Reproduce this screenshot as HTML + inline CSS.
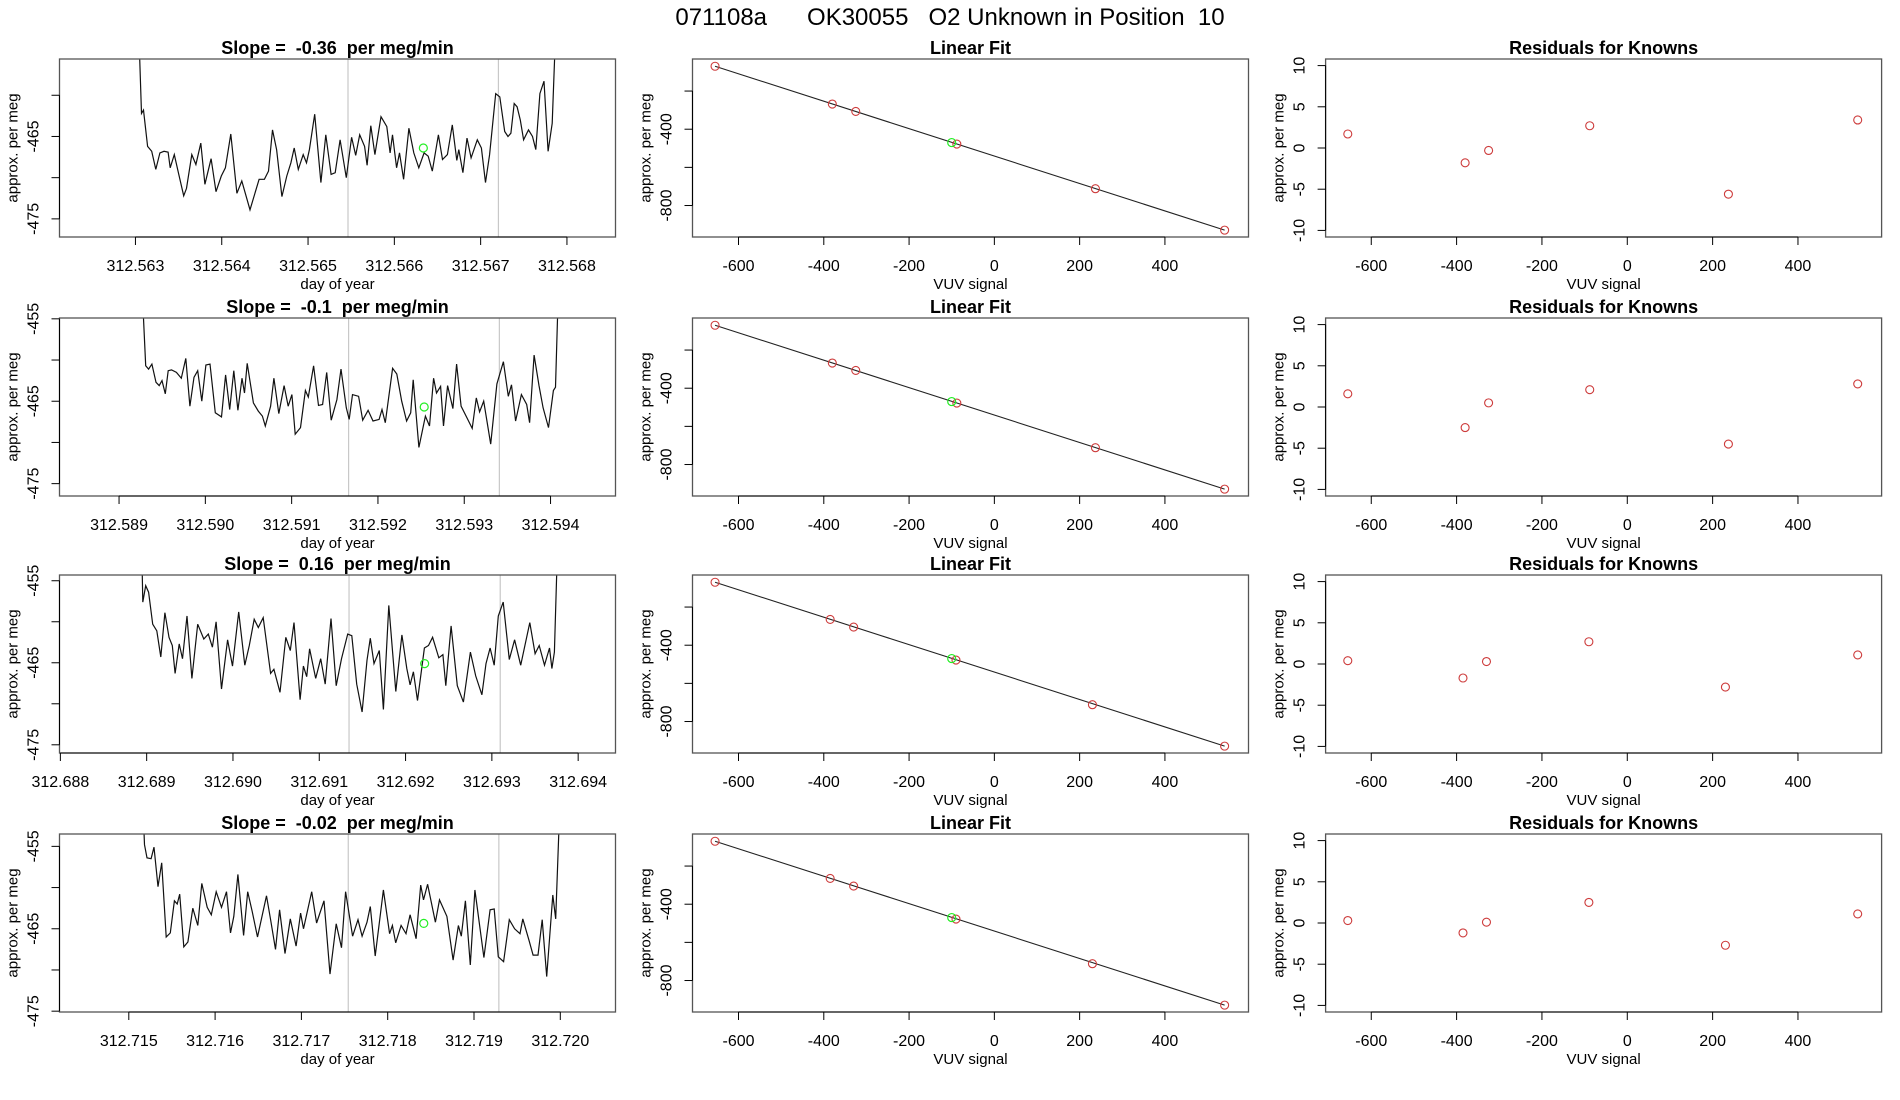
<!DOCTYPE html>
<html><head><meta charset="utf-8"><style>
html,body{margin:0;padding:0;background:#fff;}
svg{display:block;font-family:"Liberation Sans",Arial,sans-serif;}
svg text{white-space:pre;}
</style></head><body>
<svg id="chart" width="1900" height="1100" viewBox="0 0 1900 1100" xmlns="http://www.w3.org/2000/svg">
<rect width="1900" height="1100" fill="#fff"/>
<text x="950" y="25" text-anchor="middle" font-size="24" fill="#000">071108a      OK30055   O2 Unknown in Position  10</text>
</svg>
<script>
// ---- time-series data (seconds after t0, value per meg) ----
const tsStart = [312.563032, 312.589261, 312.688941, 312.715163];
const tsXmin = [312.56212, 312.58831, 312.68799, 312.714197];
const tsYlim = [[-477.2,-455.6],[-476.5,-454.9],[-476.0,-454.3],[-475.1,-453.5]];
const tsSlopes = ["-0.36","-0.1","0.16","-0.02"];
const tsTicks = [
 [312.563,312.564,312.565,312.566,312.567,312.568],
 [312.589,312.590,312.591,312.592,312.593,312.594],
 [312.688,312.689,312.690,312.691,312.692,312.693,312.694],
 [312.715,312.716,312.717,312.718,312.719,312.720]];
const tsYTicks = [-475,-470,-465,-460,-455];
const tsYLabels = [[-475,-465],[-475,-465,-455],[-475,-465,-455],[-475,-465,-455]];
const tsGrey = [[312.565463,312.567206],[312.591660,312.593407],[312.691345,312.693097],[312.717543,312.719288]];
const tsGreenX = [312.566336,312.592536,312.692221,312.718418];
const tsGreenY = [-466.4,-465.7,-465.1,-464.35];

const secs1=[0,3.3,5.3,9.4,13.5,17.6,21.7,25.8,29.9,32.0,36.1,40.2,45.5,48.4,53.7,57.8,62.7,66.8,73.0,77.9,83.2,87.3,92.7,98.8,103.7,111.9,121.0,126.3,130.4,134.5,138.6,143.9,148.8,152.9,156.2,160.3,165.2,168.5,171.4,176.7,182.9,187.8,193.1,197.2,202.1,208.3,213.6,217.7,221.8,226.7,229.2,232.9,237.0,243.1,248.9,252.2,254.6,258.7,261.6,265.7,271.0,275.9,280.9,286.2,290.3,294.4,300.5,304.6,309.6,314.5,319.0,321.0,325.1,329.2,333.3,339.5,343.6,347.7,351.8,357.9,362.0,366.9,370.2,373.1,376.4,379.3,382.5,385.8,390.7,394.8,398.1,402.2,406.3,410.4,414.5,418.6];
const vals1=[-450,-462.2,-461.8,-466.2,-466.8,-469.0,-467.0,-466.8,-466.9,-468.8,-467.2,-469.4,-472.2,-471.3,-467.2,-468.4,-465.8,-470.8,-467.7,-471.7,-469.8,-468.8,-464.7,-471.9,-470.4,-473.9,-470.2,-470.2,-469.2,-464.2,-466.6,-472.3,-469.8,-468.2,-466.4,-469.0,-467.2,-468.2,-466.6,-462.3,-470.6,-464.8,-469.6,-469.4,-465.4,-470.0,-465.1,-467.3,-464.8,-466.2,-468.5,-463.7,-467.2,-462.6,-463.8,-467.0,-464.8,-468.8,-467.0,-470.2,-464.0,-467.0,-468.8,-467.0,-467.4,-469.2,-464.8,-467.8,-467.2,-463.6,-467.9,-466.6,-469.4,-465.2,-467.6,-465.4,-466.4,-470.6,-467.2,-459.8,-460.2,-464.4,-465.0,-464.6,-461.0,-461.4,-463.0,-465.4,-464.2,-465.0,-466.6,-459.8,-458.3,-466.8,-463.4,-450];
const secs2=[0,4.1,7.0,10.3,14.4,17.6,20.5,23.8,26.7,30.0,34.9,39.8,44.3,48.4,52.5,56.2,60.3,64.4,68.5,73.8,80.0,84.1,88.2,92.3,96.4,100.5,103.0,105.8,112.0,116.9,121.0,123.9,129.2,132.5,137.4,142.7,146.8,150.5,153.8,159.1,164.0,166.9,172.2,177.1,181.2,185.3,189.8,195.6,199.7,205.0,207.9,211.2,217.3,221.4,226.8,231.7,237.8,240.7,244.0,251.3,255.5,260.4,265.3,269.4,271.9,277.6,284.2,288.3,292.4,295.3,299.4,302.3,306.4,311.7,315.4,319.9,326.1,331.0,335.1,338.4,342.5,349.5,355.7,362.2,367.2,370.4,374.5,380.3,385.6,388.5,393.0,397.9,402.0,407.4,412.3,414.4,417.6];
const vals2=[-450,-460.7,-461.1,-460.5,-462.7,-463.1,-462.5,-464.1,-461.3,-461.2,-461.5,-462.2,-459.8,-465.6,-462.1,-461.3,-465.0,-460.6,-460.5,-466.4,-466.9,-461.8,-466.0,-461.3,-466.1,-462.2,-464.0,-460.4,-465.2,-466.2,-466.8,-468.0,-465.6,-462.2,-466.5,-463.1,-465.6,-464.2,-469.0,-468.2,-463.7,-464.5,-460.7,-465.5,-465.4,-461.5,-467.3,-464.8,-461.1,-465.8,-467.2,-464.2,-464.4,-467.3,-466.1,-467.4,-467.2,-466.0,-467.6,-461.0,-461.7,-465.0,-467.4,-466.4,-462.4,-470.6,-466.8,-468.0,-462.2,-464.0,-463.2,-468.0,-463.1,-465.9,-460.5,-465.6,-467.1,-468.3,-464.6,-466.3,-465.0,-470.2,-462.9,-460.2,-464.4,-463.0,-467.4,-464.2,-465.4,-467.6,-459.4,-463.1,-465.8,-468.2,-463.7,-463.3,-450];
const secs3=[0,1.2,4.1,7.0,11.1,15.2,19.3,23.4,27.5,30.8,33.6,37.7,41.0,45.5,50.4,56.2,62.3,66.8,70.9,74.6,80.0,86.1,91.0,97.2,103.3,107.9,112.8,116.9,121.8,129.2,132.5,138.6,144.4,148.9,152.6,158.7,162.0,165.3,168.2,174.3,179.3,183.8,189.6,194.9,200.2,206.4,210.5,215.4,220.8,225.7,229.0,232.7,238.0,242.1,247.5,254.5,260.6,265.5,268.8,272.1,276.2,283.2,287.3,291.4,297.6,301.7,304.6,309.9,316.1,322.2,329.2,334.5,340.7,344.8,348.9,353.0,357.1,362.0,368.2,373.5,379.6,388.7,394.0,398.1,403.4,408.4,410.8,413.3,416.6];
const vals3=[-450,-457.6,-455.6,-456.4,-460.3,-461.1,-464.3,-458.9,-461.9,-462.9,-466.3,-462.7,-464.5,-459.3,-466.9,-460.3,-462.1,-461.5,-463.1,-460.0,-468.2,-462.2,-465.4,-458.8,-465.3,-462.9,-459.7,-460.7,-459.5,-466.3,-465.8,-468.6,-461.9,-463.5,-460.1,-469.5,-465.4,-466.7,-463.3,-466.9,-464.5,-467.6,-459.6,-467.8,-464.5,-461.5,-461.7,-467.6,-471.0,-464.7,-462.0,-465.1,-463.5,-470.7,-458.0,-468.5,-461.6,-465.7,-467.7,-466.1,-469.6,-463.2,-462.9,-461.9,-464.4,-464.0,-467.8,-460.5,-467.8,-469.8,-463.7,-466.6,-468.9,-465.1,-463.2,-465.3,-459.3,-457.6,-464.6,-462.2,-465.3,-460.1,-463.9,-462.9,-465.3,-463.2,-465.7,-463.7,-450];
const secs4=[0,1.6,4.1,8.2,11.1,15.2,18.9,23.4,27.5,31.6,34.4,36.9,41.0,45.1,50.0,55.0,59.0,64.4,68.5,73.4,78.7,83.7,87.7,91.0,95.1,100.9,105.0,109.5,114.8,123.8,127.9,132.8,136.9,142.3,147.6,153.4,157.9,160.8,169.0,173.9,181.3,187.4,193.6,198.9,203.0,210.0,215.4,219.5,224.4,227.7,232.6,240.8,247.0,249.8,253.1,258.5,263.4,267.5,273.6,278.2,281.0,285.1,292.9,297.0,304.4,310.6,315.9,318.8,322.9,327.8,332.4,341.4,347.6,351.7,355.8,361.2,366.9,372.2,377.6,380.4,386.6,390.7,395.6,399.8,404.3,410.4,413.3,417.4];
const vals4=[-450,-454.8,-456.4,-456.5,-455.1,-459.9,-457.0,-466.0,-465.5,-461.6,-462.0,-460.8,-467.2,-466.6,-462.5,-464.6,-459.5,-462.4,-463.3,-460.5,-462.4,-460.5,-465.5,-463.5,-458.4,-465.8,-460.5,-462.9,-466.0,-461.0,-463.9,-467.5,-462.7,-468.0,-463.8,-467.1,-463.1,-465.0,-460.5,-464.3,-461.6,-470.5,-464.4,-467.3,-460.5,-465.9,-463.9,-465.9,-464.2,-462.3,-468.3,-460.3,-465.6,-464.6,-466.7,-464.6,-465.6,-463.3,-466.2,-459.7,-461.5,-459.6,-464.2,-461.5,-463.5,-468.8,-464.6,-465.9,-461.6,-469.4,-460.3,-468.5,-462.7,-462.6,-468.4,-469.0,-463.9,-465.0,-465.6,-463.8,-466.4,-468.2,-468.2,-463.9,-470.8,-460.9,-463.8,-450];
const tsSecs=[secs1,secs2,secs3,secs4];
const tsVals=[vals1,vals2,vals3,vals4];

// ---- linear fit / residual data ----
const knownX = [
 [-655,-380,-325,-88,237,540],
 [-655,-380,-325,-88,237,540],
 [-655,-385,-330,-90,230,540],
 [-655,-385,-330,-90,230,540]];
const knownY = [
 [-70,-268,-307,-478,-712,-929],
 [-70,-268,-307,-478,-712,-929],
 [-70,-265,-305,-478,-712,-929],
 [-70,-265,-305,-478,-712,-929]];
const unknownX = [-100,-100,-100,-100];
const unknownY = [-470,-470,-470,-470];
const resid = [
 [1.7,-1.8,-0.3,2.7,-5.6,3.4],
 [1.6,-2.5,0.5,2.1,-4.5,2.8],
 [0.4,-1.7,0.3,2.7,-2.8,1.1],
 [0.3,-1.2,0.1,2.5,-2.7,1.1]];
const vuvTicks = [-600,-400,-200,0,200,400];
const fitYTicks = [-800,-600,-400,-200];
const fitYLabels = [-800,-400];
const resYTicks = [-10,-5,0,5,10];

const NS="http://www.w3.org/2000/svg";
const svg=document.getElementById('chart');
const colL=[59.5,692.5,1325.6], W=556;
const rowT=[59,318,575,834], H=178;
function mk(tag,attrs,parent){const e=document.createElementNS(NS,tag);for(const k in attrs)e.setAttribute(k,attrs[k]);(parent||svg).appendChild(e);return e;}
function txt(x,y,s,size,extra,parent){const t=mk('text',Object.assign({x:x,y:y,'font-size':size,'text-anchor':'middle',fill:'#000'},extra||{}),parent);t.textContent=s;return t;}

function frame(g,L,T,title,xTitle,xs,ys,xt,yt,ylab,fmtX){
  const tt=txt(L+W/2,T-5,title,18,{'font-weight':'bold'},g);
  
  
  const box=mk('rect',{x:L,y:T,width:W,height:H,fill:'none',stroke:'#555','stroke-width':1.3},g);
  
  
  const xa=mk('g',{},g);
  
  
  mk('line',{x1:xs(xt[0]),x2:xs(xt[xt.length-1]),y1:T+H,y2:T+H,stroke:'#000','stroke-width':1},xa);
  xt.forEach(v=>{const x=xs(v);mk('line',{x1:x,x2:x,y1:T+H,y2:T+H+8,stroke:'#000','stroke-width':1},xa);
    const l=txt(x,T+H+34,fmtX(v),16,{},xa);
    
    });
  const xl=txt(L+W/2,T+H+52,xTitle,15,{},g);
  
  
  const ya=mk('g',{},g);
  
  
  const inr=yt.filter(v=>ys(v)>=T-1&&ys(v)<=T+H+1);
  mk('line',{x1:L,x2:L,y1:ys(inr[0]),y2:ys(inr[inr.length-1]),stroke:'#000','stroke-width':1},ya);
  inr.forEach(v=>{const y=ys(v);mk('line',{x1:L-8,x2:L,y1:y,y2:y,stroke:'#000','stroke-width':1},ya);});
  ylab.filter(v=>ys(v)>=T-1&&ys(v)<=T+H+1).forEach(v=>{const y=ys(v);
    const l=txt(L-21,y,String(v),16,{transform:`rotate(-90 ${L-21} ${y})`},ya);
    
    });
  const yl=txt(L-42,T+H/2,'approx. per meg',15,{transform:`rotate(-90 ${L-42} ${T+H/2})`},g);
  
  
}

for(let r=0;r<4;r++){
  const T=rowT[r];
  {
    const L=colL[0];
    const g=mk('g',{});
    
    
    const x0=tsXmin[r], pxPerDay=86300;
    const xs=v=>L+(v-x0)*pxPerDay;
    const [y0,y1]=tsYlim[r];
    const ys=v=>T+H-(v-y0)/(y1-y0)*H;
    const cid='clip'+r;
    const cp=mk('clipPath',{id:cid},g);mk('rect',{x:L,y:T,width:W,height:H},cp);
    tsGrey[r].forEach(d=>{const gl=mk('line',{x1:xs(d),x2:xs(d),y1:T,y2:T+H,stroke:'#c8c8c8','stroke-width':1.2},g);
      
      });
    const pts=tsSecs[r].map((s,i)=>xs(tsStart[r]+s/86400).toFixed(1)+','+ys(tsVals[r][i]).toFixed(1)).join(' ');
    const pl=mk('polyline',{points:pts,fill:'none',stroke:'#111','stroke-width':1.2,'clip-path':`url(#${cid})`},g);
    
    
    const gc=mk('circle',{cx:xs(tsGreenX[r]),cy:ys(tsGreenY[r]),r:4,fill:'none',stroke:'#22ee22','stroke-width':1.2},g);
    
    
    frame(g,L,T,`Slope =  ${tsSlopes[r]}  per meg/min`,'day of year',xs,ys,tsTicks[r],tsYTicks,tsYLabels[r],v=>v.toFixed(3));
  }
  {
    const L=colL[1];
    const g=mk('g',{});
    
    
    const xs=v=>L+(v+707.9)/1303.9*W;
    const ys=v=>T+H-(v+965)/933*H;
    const kx=knownX[r], ky=knownY[r];
    const ln=mk('line',{x1:xs(kx[0]),y1:ys(ky[0]),x2:xs(kx[kx.length-1]),y2:ys(ky[ky.length-1]),stroke:'#222','stroke-width':1.1},g);
    
    
    kx.forEach((x,i)=>{const c=mk('circle',{cx:xs(x),cy:ys(ky[i]),r:4,fill:'none',stroke:'#cd3b3b','stroke-width':1.1},g);
      
      });
    const gc=mk('circle',{cx:xs(unknownX[r]),cy:ys(unknownY[r]),r:4,fill:'none',stroke:'#22ee22','stroke-width':1.2},g);
    
    
    frame(g,L,T,'Linear Fit','VUV signal',xs,ys,vuvTicks,fitYTicks,fitYLabels,v=>String(v));
  }
  {
    const L=colL[2];
    const g=mk('g',{});
    
    
    const xs=v=>L+(v+707)/1303*W;
    const ys=v=>T+H-(v+10.8)/21.6*H;
    knownX[r].forEach((x,i)=>{const c=mk('circle',{cx:xs(x),cy:ys(resid[r][i]),r:4,fill:'none',stroke:'#cd3b3b','stroke-width':1.1},g);
      
      });
    frame(g,L,T,'Residuals for Knowns','VUV signal',xs,ys,vuvTicks,resYTicks,resYTicks,v=>String(v));
  }
}
</script>
</body></html>
